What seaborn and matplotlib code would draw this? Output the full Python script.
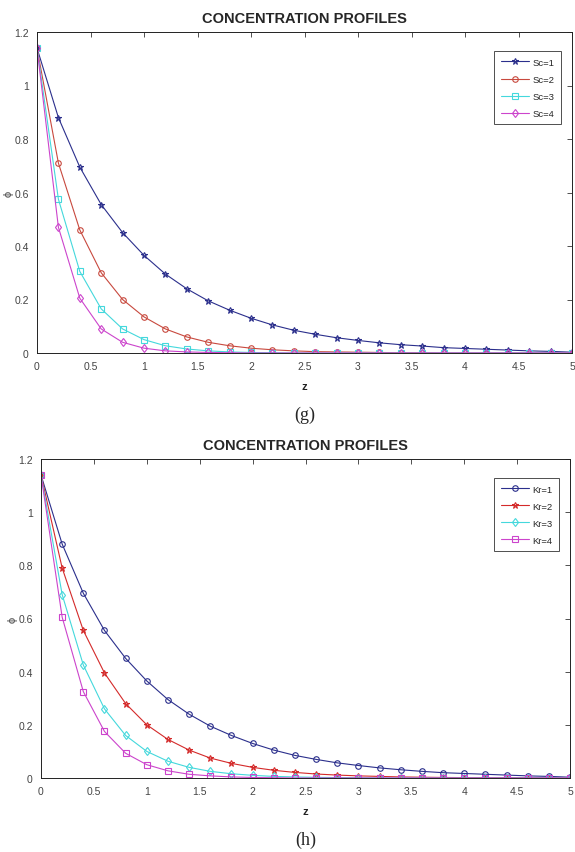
import numpy as np
import pandas as pd
import matplotlib
matplotlib.use("Agg")
import matplotlib.pyplot as plt
import seaborn as sns

z = [0.0, 0.2, 0.4, 0.6, 0.8, 1.0, 1.2, 1.4, 1.6, 1.8, 2.0, 2.2, 2.4, 2.6, 2.8,
     3.0, 3.2, 3.4, 3.6, 3.8, 4.0, 4.2, 4.4, 4.6, 4.8, 5.0]

sc1 = [1.14, 0.88, 0.695, 0.555, 0.45, 0.365, 0.295, 0.24, 0.195, 0.16, 0.13, 0.105, 0.085,
       0.07, 0.057, 0.047, 0.038, 0.031, 0.026, 0.020, 0.017, 0.014, 0.011, 0.008, 0.006, 0.003]
sc2 = [1.14, 0.71, 0.46, 0.30, 0.20, 0.135, 0.09, 0.06, 0.04, 0.027, 0.018, 0.012, 0.008,
       0.005, 0.004, 0.003, 0.002, 0.001, 0.001, 0.0, 0.0, 0.0, 0.0, 0.0, 0.0, 0.0]
sc3 = [1.14, 0.575, 0.305, 0.165, 0.09, 0.05, 0.027, 0.015, 0.008, 0.004, 0.002, 0.001, 0.0,
       0.0, 0.0, 0.0, 0.0, 0.0, 0.0, 0.0, 0.0, 0.0, 0.0, 0.0, 0.0, 0.0]
sc4 = [1.14, 0.47, 0.205, 0.09, 0.04, 0.018, 0.008, 0.004, 0.002, 0.001, 0.0, 0.0, 0.0,
       0.0, 0.0, 0.0, 0.0, 0.0, 0.0, 0.0, 0.0, 0.0, 0.0, 0.0, 0.0, 0.0]

kr1 = [1.14, 0.88, 0.695, 0.555, 0.45, 0.365, 0.295, 0.24, 0.195, 0.16, 0.13, 0.105, 0.085,
       0.07, 0.057, 0.047, 0.038, 0.031, 0.025, 0.020, 0.017, 0.014, 0.011, 0.008, 0.006, 0.003]
kr2 = [1.14, 0.79, 0.555, 0.395, 0.28, 0.20, 0.145, 0.105, 0.075, 0.055, 0.04, 0.029, 0.021,
       0.015, 0.011, 0.008, 0.006, 0.004, 0.003, 0.002, 0.0015, 0.001, 0.001, 0.0005, 0.0, 0.0]
kr3 = [1.14, 0.69, 0.425, 0.26, 0.16, 0.10, 0.063, 0.04, 0.025, 0.016, 0.01, 0.006, 0.004,
       0.0025, 0.0015, 0.001, 0.0, 0.0, 0.0, 0.0, 0.0, 0.0, 0.0, 0.0, 0.0, 0.0]
kr4 = [1.14, 0.605, 0.325, 0.175, 0.093, 0.05, 0.027, 0.014, 0.008, 0.004, 0.002, 0.001, 0.0,
       0.0, 0.0, 0.0, 0.0, 0.0, 0.0, 0.0, 0.0, 0.0, 0.0, 0.0, 0.0, 0.0]

sc_labels = ["Sc=1", "Sc=2", "Sc=3", "Sc=4"]
kr_labels = ["Kr=1", "Kr=2", "Kr=3", "Kr=4"]
x_ticks = [0, 0.5, 1, 1.5, 2, 2.5, 3, 3.5, 4, 4.5, 5]
x_ticklabels = ["0", "0.5", "1", "1.5", "2", "2.5", "3", "3.5", "4", "4.5", "5"]
y_ticks = [0, 0.2, 0.4, 0.6, 0.8, 1.0, 1.2]
y_ticklabels = ["0", "0.2", "0.4", "0.6", "0.8", "1", "1.2"]

sns.set_theme(style="white")
plt.rcParams['font.family'] = ['Liberation Sans Narrow', 'Liberation Sans', 'DejaVu Sans']

NAVY = "#2b2f8c"
RED_G = "#c8493e"
RED_H = "#d42a2a"
CYAN = "#44d8dc"
MAG = "#cc44cc"

fig = plt.figure(figsize=(5.75, 8.53), dpi=100)
ax1 = fig.add_axes([37/575, 1-354/853, 535/575, 321/853])
ax2 = fig.add_axes([41/575, 1-779/853, 529/575, 319/853])


def draw(ax, series, labels, colors, markers, sizes, caption):
    for ys, lab, col, mk, ms in zip(series, labels, colors, markers, sizes):
        df = pd.DataFrame({"z": z, "phi": ys})
        sns.lineplot(data=df, x="z", y="phi", ax=ax, color=col, marker=mk,
                     markersize=ms, mfc="none", mec=col, mew=0.8, lw=0.8,
                     label=lab, estimator=None, sort=False)
    ax.set_xlim(0, 5)
    ax.set_ylim(0, 1.2)
    ax.set_xticks(x_ticks)
    ax.set_xticklabels(x_ticklabels)
    ax.set_yticks(y_ticks)
    ax.set_yticklabels(y_ticklabels)
    ax.tick_params(direction="in", top=True, right=True, length=3.5, width=0.6,
                   labelsize=7.5, labelcolor="#444444", pad=6, colors="#333333")
    for s in ax.spines.values():
        s.set_visible(True)
        s.set_color("#222222")
        s.set_linewidth(0.7)
    ax.set_xlabel("z", fontsize=8, fontweight="bold", labelpad=7, color="#222222")
    ax.set_ylabel("ϕ", fontsize=8, labelpad=0, color="#444444")
    ax.set_title("CONCENTRATION PROFILES", fontsize=10.5, fontweight="bold", pad=7)
    leg = ax.legend(loc="upper right", fontsize=6.8, frameon=True, fancybox=False,
                    edgecolor="#222222", handlelength=3.0, borderpad=0.7,
                    labelspacing=0.85, handletextpad=0.3,
                    bbox_to_anchor=(0.988, 0.955))
    leg.get_frame().set_linewidth(0.7)
    ax.text(0.5, -0.165, caption, transform=ax.transAxes, ha="center", va="top",
            fontsize=13, family=["Liberation Serif", "DejaVu Serif"])


draw(ax1, [sc1, sc2, sc3, sc4], sc_labels, [NAVY, RED_G, CYAN, MAG],
     ["*", "o", "s", "d"], [4.5, 4, 4, 4.5], "(g)")
draw(ax2, [kr1, kr2, kr3, kr4], kr_labels, [NAVY, RED_H, CYAN, MAG],
     ["o", "*", "d", "s"], [4, 5, 4.5, 4], "(h)")

fig.savefig("out.png", dpi=100)
